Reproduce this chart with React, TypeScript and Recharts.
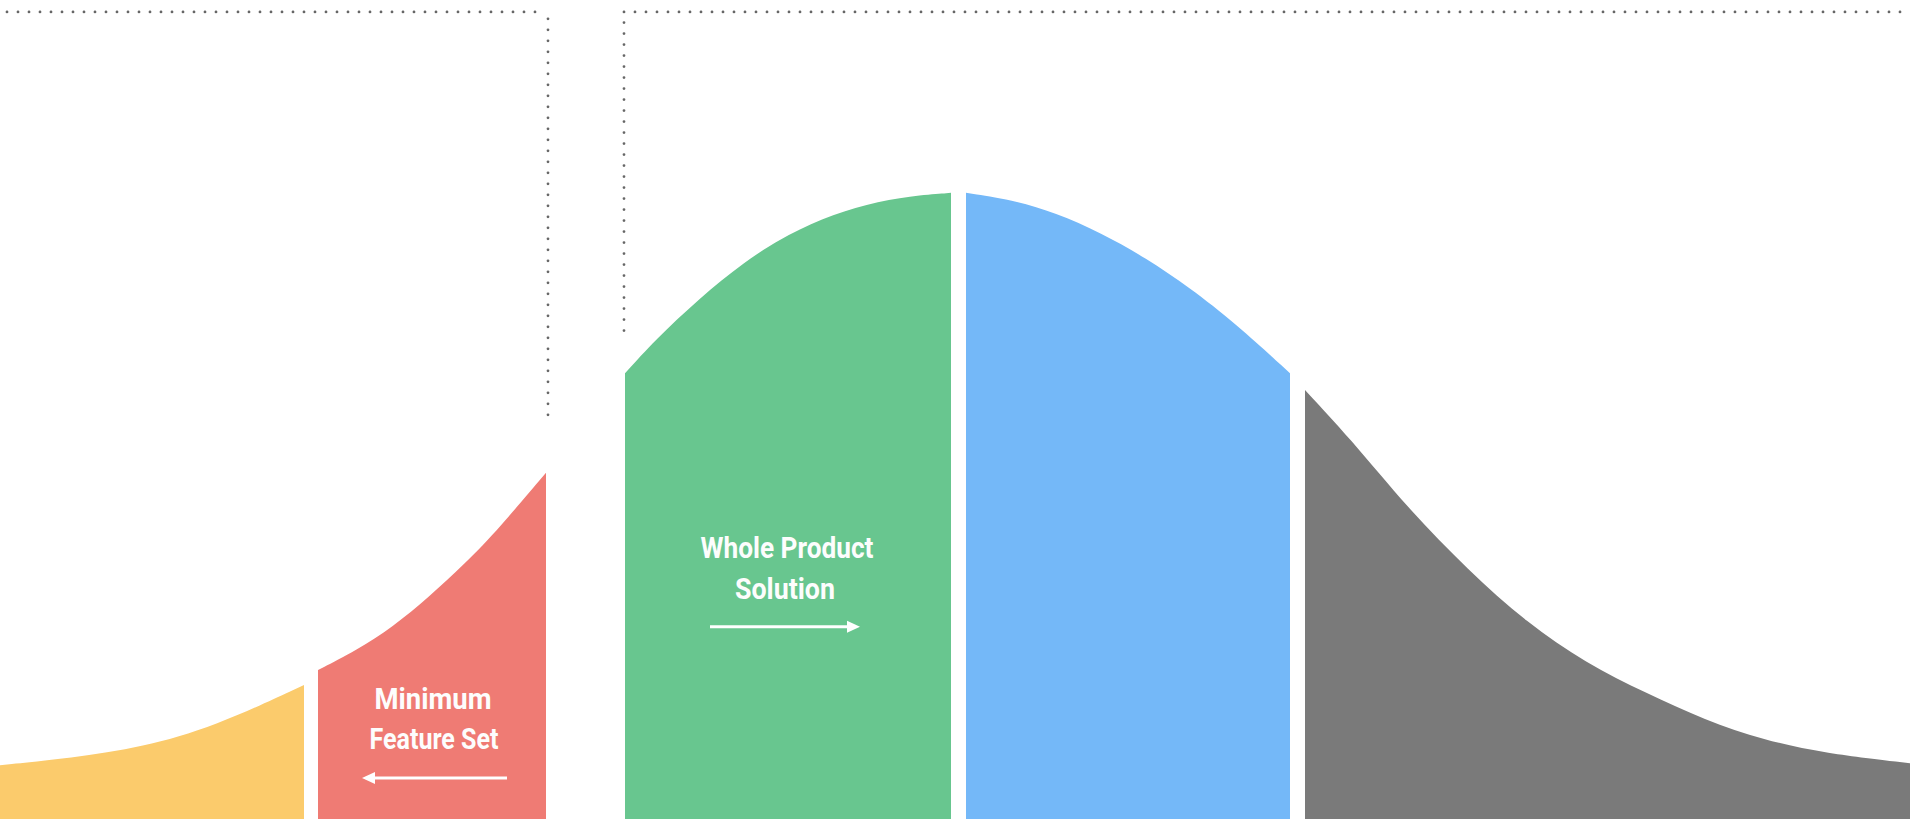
import React from 'react';
import { ComposedChart, Area, XAxis, YAxis, ReferenceLine, ReferenceDot } from 'recharts';

// adoption curve: [position, height in % of peak]
const innovators: [number, number][] = [[0, 8.6], [71, 9.7], [143, 11.5], [214, 14.7], [304, 21.4]];
const earlyAdopters: [number, number][] = [[318, 23.8], [357, 27.0], [393, 30.7], [429, 35.5], [464, 40.6], [500, 46.6], [546, 55.3]];
const earlyMajority: [number, number][] = [[625, 71.2], [655, 76.5], [699, 83.1], [744, 89.0], [789, 93.5], [833, 96.6], [878, 98.7], [922, 99.7], [951, 100]];
const lateMajority: [number, number][] = [[966, 100], [1012, 98.9], [1056, 96.8], [1101, 93.6], [1146, 89.6], [1190, 84.8], [1235, 79.2], [1290, 71.2]];
const laggards: [number, number][] = [[1305, 68.5], [1349, 61.0], [1409, 49.4], [1468, 39.8], [1527, 31.3], [1586, 24.9], [1646, 20.1], [1705, 15.8], [1764, 12.6], [1824, 10.5], [1910, 8.9]];

const segments = [
  { key: 'innovators', points: innovators, color: '#FBCB6C' },
  { key: 'earlyAdopters', points: earlyAdopters, color: '#EF7B74' },
  { key: 'earlyMajority', points: earlyMajority, color: '#68C68F' },
  { key: 'lateMajority', points: lateMajority, color: '#74B8F8' },
  { key: 'laggards', points: laggards, color: '#7A7A7A' },
];

const rows = segments.flatMap((s) => s.points.map(([x, v]) => ({ x, [s.key]: v })));

const FONT = "Roboto, 'Noto Sans', sans-serif";
const DOT_STYLE = { stroke: '#666', strokeWidth: 2.8, strokeDasharray: '0 11', strokeLinecap: 'round' as const };

const Arrow = (props: any) => {
  const { x1, y1, x2, y2 } = props;
  const dir = Math.sign(x2 - x1) || 1;
  const head = 13;
  return (
    <g>
      <line x1={x1} y1={y1} x2={x2 - dir * head * 0.6} y2={y2} stroke="#fff" strokeWidth={3} />
      <polygon
        points={`${x2},${y2} ${x2 - dir * head},${y2 - 6} ${x2 - dir * head},${y2 + 6}`}
        fill="#fff"
      />
    </g>
  );
};

// condensed white caption centred on the dot
const caption = (text: string, width: number) => (props: any) => (
  <text
    x={props.cx}
    y={props.cy + 11}
    textAnchor="middle"
    fill="#fdfdfd"
    fontSize={30}
    fontWeight={700}
    fontFamily={FONT}
    textLength={width}
    lengthAdjust="spacingAndGlyphs"
  >
    {text}
  </text>
);

export default function App() {
  return (
    <div style={{ position: 'absolute', left: 0, top: 0, width: 1910, height: 824, background: '#fff' }}>
      <ComposedChart width={1910} height={824} data={rows} margin={{ top: 0, right: 0, bottom: 5, left: 0 }}>
        <XAxis type="number" dataKey="x" domain={[0, 1910]} hide />
        <YAxis type="number" domain={[0, 130.8]} hide />
        {segments.map((s) => (
          <Area
            key={s.key}
            dataKey={s.key}
            type="basis"
            fill={s.color}
            fillOpacity={1}
            stroke="none"
            dot={false}
            activeDot={false}
            isAnimationActive={false}
          />
        ))}

        {/* dotted frames */}
        <ReferenceLine segment={[{ x: 7, y: 128.9 }, { x: 542, y: 128.9 }]} {...DOT_STYLE} />
        <ReferenceLine segment={[{ x: 548, y: 127.8 }, { x: 548, y: 63.7 }]} {...DOT_STYLE} />
        <ReferenceLine segment={[{ x: 624, y: 128.9 }, { x: 1910, y: 128.9 }]} {...DOT_STYLE} />
        <ReferenceLine segment={[{ x: 624, y: 127.2 }, { x: 624, y: 78.0 }]} {...DOT_STYLE} />

        {/* annotations */}
        <ReferenceDot x={433} y={19.3} r={1} shape={caption('Minimum', 117)} />
        <ReferenceDot x={434} y={12.9} r={1} shape={caption('Feature Set', 129)} />
        <ReferenceLine segment={[{ x: 507, y: 6.55 }, { x: 362, y: 6.55 }]} shape={Arrow} />

        <ReferenceDot x={787} y={43.5} r={1} shape={caption('Whole Product', 173)} />
        <ReferenceDot x={785} y={36.9} r={1} shape={caption('Solution', 100)} />
        <ReferenceLine segment={[{ x: 710, y: 30.7 }, { x: 860, y: 30.7 }]} shape={Arrow} />
      </ComposedChart>
    </div>
  );
}
